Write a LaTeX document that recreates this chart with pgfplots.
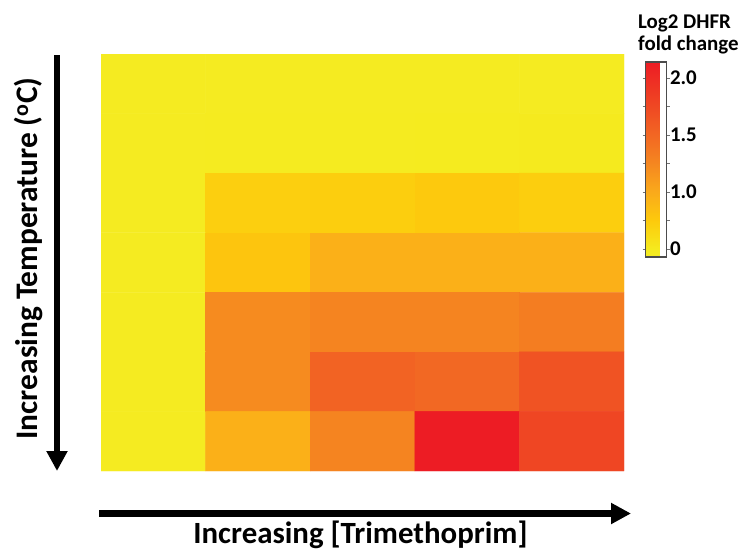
\documentclass[border=0pt]{standalone}
\usepackage{pgfplots}
\pgfplotsset{compat=1.18}
\usepackage{fontspec}
\setmainfont{Carlito}
\usetikzlibrary{arrows.meta}

\pgfplotstableread{
x y c
0 0 0.45
1 0 0.45
2 0 0.45
3 0 0.45
4 0 0.45
0 1 0.45
1 1 0.47
2 1 0.47
3 1 0.48
4 1 0.50
0 2 0.45
1 2 0.71
2 2 0.72
3 2 0.76
4 2 0.72
0 3 0.45
1 3 0.79
2 3 0.95
3 3 0.95
4 3 0.95
0 4 0.45
1 4 1.22
2 4 1.27
3 4 1.27
4 4 1.33
0 5 0.45
1 5 1.22
2 5 1.53
3 5 1.49
4 5 1.66
0 6 0.45
1 6 0.95
2 6 1.27
3 6 2.14
4 6 1.77
}\heat

\begin{document}
\begin{tikzpicture}
\path[use as bounding box] (0,0) rectangle (753bp,-557bp);
\begin{axis}[
  at={(101bp,-54bp)}, anchor=north west,
  scale only axis, width=523bp, height=417bp,
  xmin=-0.5, xmax=4.5, ymin=-0.5, ymax=6.5, y dir=reverse,
  axis line style={draw=none}, xtick=\empty, ytick=\empty,
  colormap={dhfr}{rgb255(0bp)=(245,236,34); rgb255(7bp)=(245,234,30); rgb255(32bp)=(253,202,12); rgb255(57bp)=(250,170,27); rgb255(82bp)=(245,135,32); rgb255(107bp)=(242,103,35); rgb255(132bp)=(239,72,35); rgb255(171bp)=(237,28,36)},
  point meta min=0.43, point meta max=2.14,
  colorbar,
  colorbar style={
    at={(parent axis.north east)}, anchor=north west,
    xshift=13bp, yshift=-8bp,
    scale only axis, width=21bp, height=195bp,
    ytick={0.5,1,1.5,2}, yticklabels={0,1.0,1.5,2.0},
    minor ytick={0.75,1.25,1.75},
    axis line style={draw=black!70, line width=1.2bp},
    tick style={black!55, line width=0.6bp},
    tick align=outside, major tick length=3bp, minor tick length=3bp,
    yticklabel style={font=\bfseries\fontsize{21}{21}\selectfont, xshift=-3bp},
  },
]
\addplot[matrix plot*, mesh/cols=5, point meta=explicit] table[x=x, y=y, meta=c] {\heat};
\end{axis}
\node[anchor=base west, font=\bfseries\fontsize{21}{21}\selectfont, inner sep=0pt] at (638bp,-28bp) {Log2 DHFR};
\node[anchor=base west, font=\bfseries\fontsize{21}{21}\selectfont, inner sep=0pt] at (638bp,-50bp) {fold change};
\draw[line width=6.5bp, -{Triangle[width=20bp,length=20bp]}] (57bp,-55bp) -- (57bp,-471bp);
\draw[line width=6.5bp, -{Triangle[width=20bp,length=20bp]}] (99bp,-513.5bp) -- (631bp,-513.5bp);
\node[rotate=90, anchor=base, inner sep=0pt, font=\bfseries\fontsize{31.5}{31.5}\selectfont] at (37bp,-258.5bp) {Increasing Temperature (\textsuperscript{o}C)};
\node[anchor=base, inner sep=0pt, font=\bfseries\fontsize{31}{31}\selectfont] at (360.5bp,-543bp) {Increasing [Trimethoprim]};
\end{tikzpicture}
\end{document}
